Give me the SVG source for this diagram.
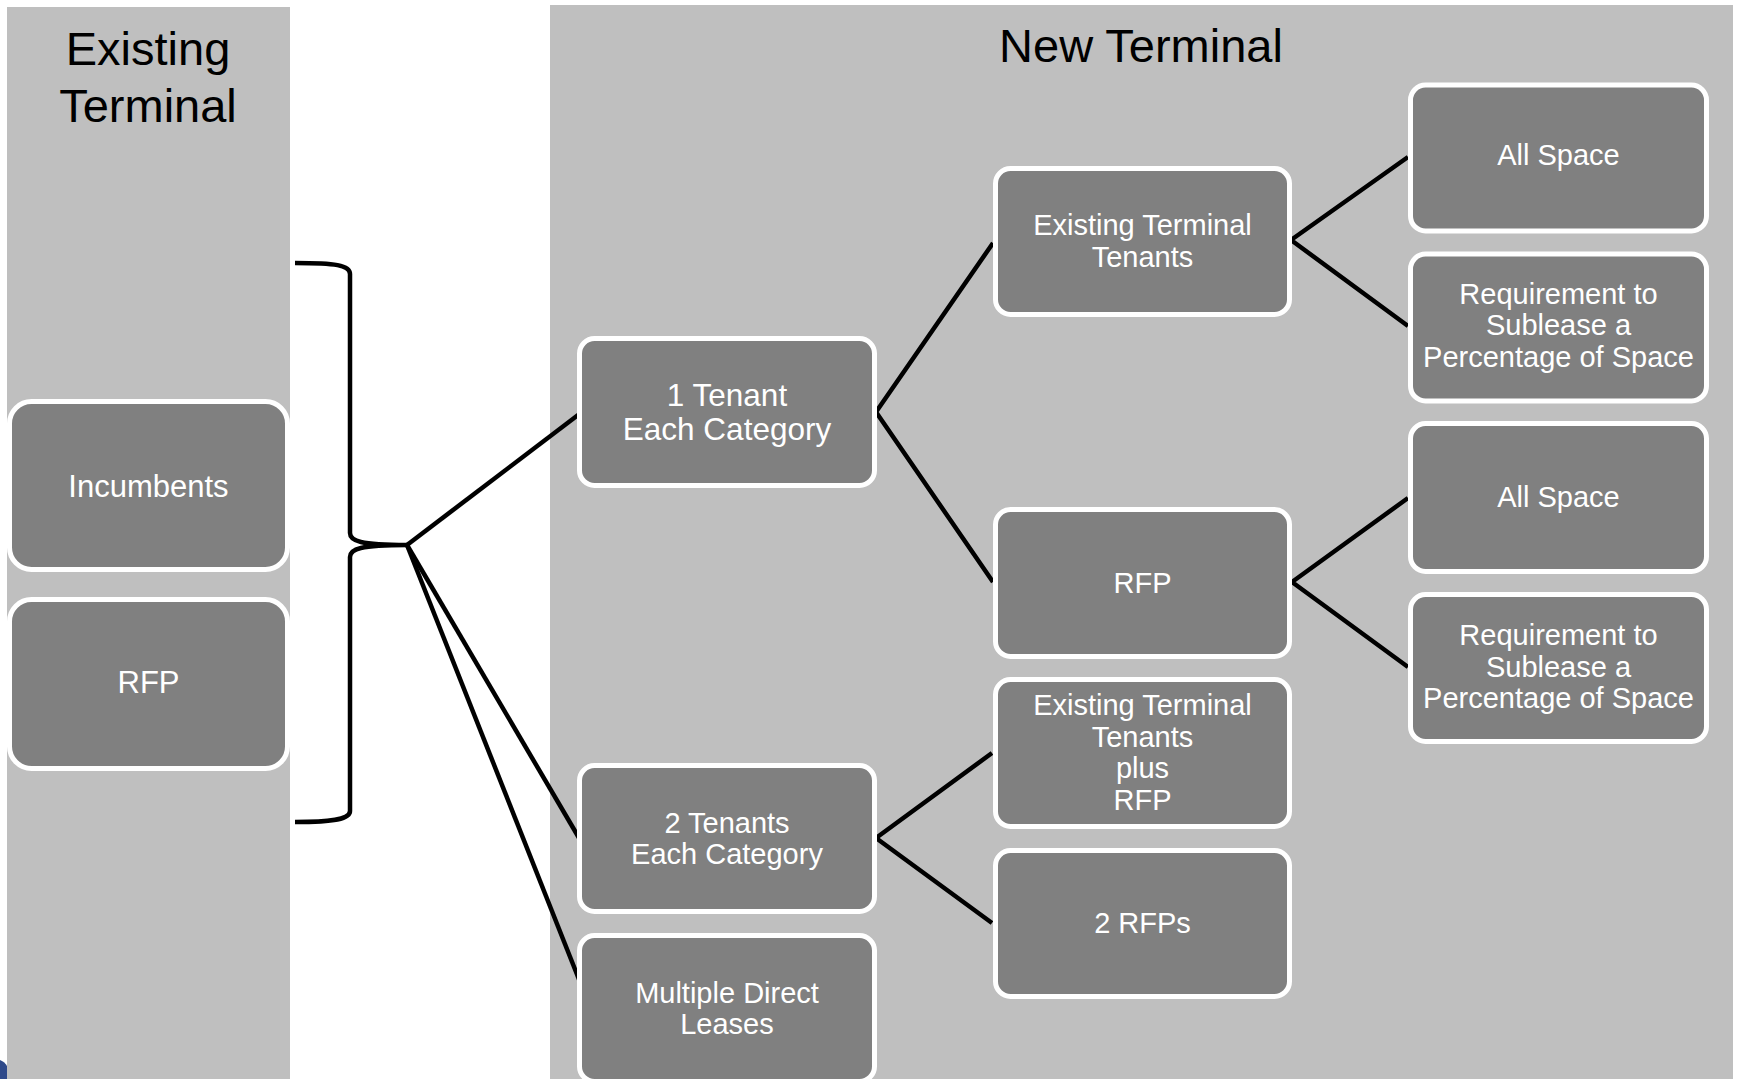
<svg xmlns="http://www.w3.org/2000/svg" width="1738" height="1079" viewBox="0 0 1738 1079">
  <style>
    .panel { fill: #BFBFBF; }
    .node rect { fill: #808080; stroke: #FFFFFF; stroke-width: 5; }
    .node text { fill: #FFFFFF; font-family: "Liberation Sans", Arial, sans-serif; font-size: 29px; text-anchor: middle; }
    .title { fill: #000000; font-family: "Liberation Sans", Arial, sans-serif; font-size: 47px; text-anchor: middle; }
    .conn { fill: none; stroke: #000000; stroke-width: 4.5; stroke-linejoin: round; }
  </style>
  <rect x="0" y="0" width="1738" height="1079" fill="#FFFFFF"/>
  <g id="panels">
    <rect class="panel" x="7" y="7" width="283" height="1072"/>
    <rect class="panel" x="550" y="5" width="1183" height="1074"/>
    <path d="M0,1060 Q5,1062 7,1066 L7,1079 L0,1079 Z" fill="#2F4A8A"/>
  </g>
  <g id="titles">
    <text class="title" x="148" y="65">Existing</text>
    <text class="title" x="148" y="122">Terminal</text>
    <text class="title" x="1141" y="62">New Terminal</text>
  </g>
  <g id="connectors">
    <path class="conn" d="M295,263 C335,263 350,265 350,274 L350,533 C350,541 360,545 407,545 C360,545 350,549 350,557 L350,811 C350,819 335,822 295,822"/>
    <line class="conn" x1="407" y1="545" x2="582" y2="412"/>
    <line class="conn" x1="407" y1="545" x2="582" y2="843"/>
    <line class="conn" x1="407" y1="545" x2="582" y2="987"/>
    <polyline class="conn" points="993,243 876,412 993,582"/>
    <polyline class="conn" points="1408,157 1291,240 1408,326"/>
    <polyline class="conn" points="1408,498 1292,582 1408,667"/>
    <polyline class="conn" points="992,753 876,838 992,923"/>
  </g>
  <g id="node-incumbents" class="node">
    <rect x="9.5" y="401.5" width="278" height="168" rx="22"/>
    <text x="148.5" y="497" style="font-size:31px">Incumbents</text>
  </g>
  <g id="node-rfp-existing" class="node">
    <rect x="9.5" y="599.5" width="278" height="169" rx="22"/>
    <text x="148.5" y="693" style="font-size:31px">RFP</text>
  </g>
  <g id="node-1-tenant" class="node">
    <rect x="579.5" y="338.5" width="295" height="147" rx="15"/>
    <text x="727" y="406" style="font-size:31.5px">1 Tenant</text>
    <text x="727" y="440" style="font-size:31.5px">Each Category</text>
  </g>
  <g id="node-2-tenants" class="node">
    <rect x="579.5" y="765.5" width="295" height="146" rx="15"/>
    <text x="727" y="832.5">2 Tenants</text>
    <text x="727" y="863.5">Each Category</text>
  </g>
  <g id="node-multiple" class="node">
    <rect x="579.5" y="935.5" width="295" height="146" rx="15"/>
    <text x="727" y="1003">Multiple Direct</text>
    <text x="727" y="1034">Leases</text>
  </g>
  <g id="node-ett" class="node">
    <rect x="995.5" y="168.5" width="294" height="146" rx="15"/>
    <text x="1142.5" y="235">Existing Terminal</text>
    <text x="1142.5" y="266.5">Tenants</text>
  </g>
  <g id="node-rfp-new" class="node">
    <rect x="995.5" y="509.5" width="294" height="147" rx="15"/>
    <text x="1142.5" y="592.5">RFP</text>
  </g>
  <g id="node-ett-plus-rfp" class="node">
    <rect x="995.5" y="679.5" width="294" height="147" rx="15"/>
    <text x="1142.5" y="715">Existing Terminal</text>
    <text x="1142.5" y="746.5">Tenants</text>
    <text x="1142.5" y="778">plus</text>
    <text x="1142.5" y="809.5">RFP</text>
  </g>
  <g id="node-2-rfps" class="node">
    <rect x="995.5" y="850.5" width="294" height="146" rx="15"/>
    <text x="1142.5" y="933">2 RFPs</text>
  </g>
  <g id="node-all-space-1" class="node">
    <rect x="1410.5" y="85" width="296" height="146" rx="15"/>
    <text x="1558.5" y="165">All Space</text>
  </g>
  <g id="node-req-1" class="node">
    <rect x="1410.5" y="254" width="296" height="147" rx="15"/>
    <text x="1558.5" y="303.5">Requirement to</text>
    <text x="1558.5" y="335">Sublease a</text>
    <text x="1558.5" y="366.5">Percentage of Space</text>
  </g>
  <g id="node-all-space-2" class="node">
    <rect x="1410.5" y="423.5" width="296" height="148" rx="15"/>
    <text x="1558.5" y="506.5">All Space</text>
  </g>
  <g id="node-req-2" class="node">
    <rect x="1410.5" y="594.5" width="296" height="147" rx="15"/>
    <text x="1558.5" y="645">Requirement to</text>
    <text x="1558.5" y="676.5">Sublease a</text>
    <text x="1558.5" y="708">Percentage of Space</text>
  </g>
</svg>
